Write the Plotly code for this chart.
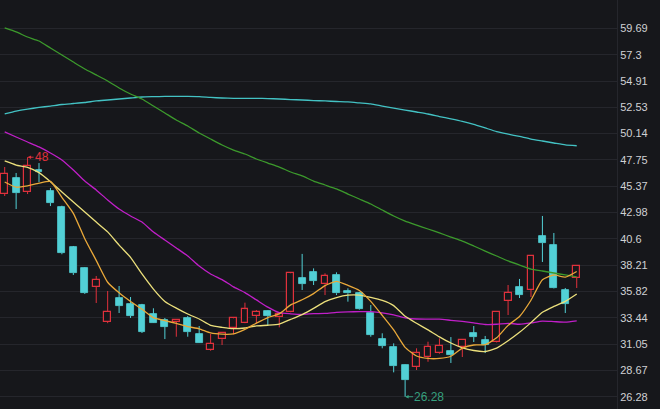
import plotly.graph_objects as go

# ---------------- data ----------------
opens = [44.66, 46.11, 44.84, 46.80, 44.93, 43.48, 39.86, 37.95, 36.23, 33.05,
         35.23, 34.69, 34.60, 33.78, 33.24, 33.08, 33.39, 31.97, 30.52, 31.49,
         32.48, 33.00, 33.60, 34.05, 33.48, 33.93, 37.02, 37.56, 36.47, 37.35,
         35.87, 35.66, 33.84, 31.51, 30.81, 29.15, 29.00, 29.91, 30.22, 30.43,
         30.79, 32.06, 31.42, 31.24, 34.96, 36.23, 35.96, 40.85, 40.04, 35.96, 37.05]
highs = [47.11, 46.57, 48.00, 47.47, 45.21, 43.60, 39.95, 38.00, 37.23, 35.87,
         36.32, 35.32, 34.70, 34.30, 33.42, 33.30, 33.60, 32.69, 31.97, 32.15,
         33.45, 34.81, 34.14, 34.10, 33.85, 37.50, 39.23, 37.92, 37.47, 37.56,
         36.11, 35.78, 34.60, 32.03, 31.12, 29.20, 30.67, 31.27, 31.57, 31.69,
         31.50, 32.69, 31.79, 34.00, 36.41, 36.96, 39.10, 42.67, 41.13, 36.14, 38.20]
lows = [44.48, 43.30, 44.66, 45.75, 43.57, 39.20, 37.32, 35.60, 34.78, 32.95,
        33.87, 33.42, 32.06, 32.97, 31.51, 31.72, 31.72, 31.15, 30.45, 30.97,
        31.94, 32.95, 32.93, 32.78, 32.57, 33.90, 35.96, 36.41, 35.50, 35.50,
        34.90, 34.15, 31.72, 30.67, 28.49, 26.28, 28.70, 29.45, 30.15, 29.34,
        29.88, 31.24, 30.24, 31.20, 33.69, 35.23, 35.32, 38.50, 36.10, 33.87, 36.14]
closes = [46.48, 44.75, 47.20, 46.70, 43.85, 39.31, 37.50, 35.68, 36.86, 33.96,
          34.51, 33.60, 32.17, 33.00, 32.63, 33.24, 32.17, 31.18, 31.06, 32.09,
          33.39, 34.21, 33.99, 33.60, 33.78, 37.47, 36.50, 36.80, 37.26, 35.66,
          35.66, 34.21, 31.88, 30.88, 29.06, 27.79, 30.22, 30.81, 30.88, 30.06,
          31.42, 31.69, 30.97, 33.96, 35.69, 35.50, 39.04, 40.22, 36.14, 34.69, 38.13]

ma5 = [45.75, 45.28, 45.40, 45.65, 45.80, 44.36, 42.91, 40.61, 38.64, 36.66,
       35.70, 34.92, 34.22, 33.45, 33.18, 32.93, 32.64, 32.44, 32.06, 31.95,
       31.98, 32.39, 32.95, 33.46, 33.79, 34.61, 35.07, 35.63, 36.36, 36.74,
       36.38, 35.92, 34.93, 33.66, 32.34, 30.76, 29.97, 29.75, 29.75, 29.95,
       30.68, 30.97, 31.00, 31.62, 32.75, 33.56, 35.03, 36.88, 37.32, 37.12, 37.64]
ma10 = [47.66, 47.29, 47.08, 46.60, 45.78, 44.85, 43.94, 43.03, 42.12, 41.23,
        40.03, 38.92, 37.41, 36.04, 34.92, 34.32, 33.78, 33.33, 32.75, 32.57,
        32.45, 32.51, 32.70, 32.76, 32.87, 33.29, 33.73, 34.29, 34.91, 35.27,
        35.49, 35.49, 35.28, 35.01, 34.54, 33.57, 32.94, 32.34, 31.71, 31.15,
        30.72, 30.47, 30.38, 30.69, 31.35, 32.12, 33.00, 33.94, 34.47, 34.93, 35.60]
ma20 = [50.29, 49.83, 49.38, 48.93, 48.38, 47.75, 46.84, 45.84, 45.03, 44.12,
        43.30, 42.67, 42.12, 41.22, 40.49, 39.77, 39.04, 38.13, 37.41, 36.90,
        36.24, 35.72, 35.06, 34.40, 33.90, 33.80, 33.75, 33.81, 33.83, 33.92,
        33.97, 34.00, 33.99, 33.88, 33.70, 33.43, 33.33, 33.32, 33.31, 33.21,
        33.11, 32.98, 32.83, 32.85, 32.94, 32.85, 32.97, 33.14, 33.09, 33.04, 33.16]
ma60 = [59.72, 59.36, 58.90, 58.54, 57.90, 57.27, 56.63, 56.00, 55.46, 54.91,
        54.28, 53.73, 53.28, 52.64, 52.01, 51.37, 50.83, 50.20, 49.65, 49.11,
        48.65, 48.29, 47.84, 47.47, 47.11, 46.66, 46.30, 45.84, 45.48, 45.12,
        44.66, 44.21, 43.76, 43.21, 42.67, 42.21, 41.85, 41.49, 41.13, 40.76,
        40.40, 39.95, 39.49, 39.04, 38.59, 38.22, 37.86, 37.68, 37.50, 37.32, 37.14]
ma120 = [51.92, 52.19, 52.37, 52.51, 52.64, 52.78, 52.87, 52.96, 53.10, 53.19,
         53.28, 53.37, 53.46, 53.49, 53.51, 53.51, 53.51, 53.49, 53.42, 53.37,
         53.34, 53.34, 53.34, 53.32, 53.28, 53.23, 53.19, 53.14, 53.10, 53.05,
         53.01, 52.92, 52.83, 52.64, 52.46, 52.28, 52.10, 51.92, 51.69, 51.47,
         51.24, 50.97, 50.65, 50.33, 50.10, 49.88, 49.65, 49.47, 49.29, 49.11, 49.04]

tick_vals = [26.28, 28.67, 31.05, 33.44, 35.82, 38.21, 40.6, 42.98, 45.37,
             47.75, 50.14, 52.53, 54.91, 57.3, 59.69]
tick_text = ["26.28", "28.67", "31.05", "33.44", "35.82", "38.21", "40.6", "42.98",
             "45.37", "47.75", "50.14", "52.53", "54.91", "57.3", "59.69"]

high_label = "48"
low_label = "26.28"

# ---------------- styles ----------------
BG = "#16171b"
GRID = "#25262c"
RED = "#e0313c"
CYAN = "#52d0d6"
LOWC = "#36a07f"

x = list(range(len(opens)))

fig = go.Figure()

# wicks
def wick_xy(sel):
    xs, ys = [], []
    for i in sel:
        top = max(opens[i], closes[i])
        bot = min(opens[i], closes[i])
        xs += [i, i, None, i, i, None]
        ys += [highs[i], top, None, bot, lows[i], None]
    return xs, ys

up = [i for i in x if closes[i] >= opens[i]]
dn = [i for i in x if closes[i] < opens[i]]

for sel, col in ((up, RED), (dn, CYAN)):
    wx, wy = wick_xy(sel)
    fig.add_trace(go.Scatter(x=wx, y=wy, mode="lines", line=dict(color=col, width=1),
                             hoverinfo="skip"))

# bodies
def body(sel):
    base = [min(opens[i], closes[i]) for i in sel]
    h = [max(abs(closes[i] - opens[i]), 0.05) for i in sel]
    return base, h

b, h = body(up)
fig.add_trace(go.Bar(x=up, y=h, base=b, width=0.6,
                     marker=dict(color=BG, line=dict(color=RED, width=1.2))))
b, h = body(dn)
fig.add_trace(go.Bar(x=dn, y=h, base=b, width=0.6,
                     marker=dict(color=CYAN, line=dict(color=CYAN, width=0.8))))

# moving averages
for vals, col in ((ma120, "#43c2c4"), (ma60, "#3c9a2c"), (ma20, "#c01fc8"),
                  (ma10, "#ece07c"), (ma5, "#eaa93a")):
    fig.add_trace(go.Scatter(x=x, y=vals, mode="lines",
                             line=dict(color=col, width=1.3, shape="spline", smoothing=0.5),
                             hoverinfo="skip"))

# high / low markers
imax = highs.index(max(highs))
imin = lows.index(min(lows))
fig.add_annotation(x=imax, y=highs[imax], text=high_label, showarrow=True,
                   ax=6, ay=0, xanchor="left", arrowhead=2, arrowsize=0.7,
                   arrowwidth=1, arrowcolor=RED, font=dict(color=RED, size=12,
                   family="Liberation Sans, Arial"), borderpad=0)
fig.add_annotation(x=imin, y=lows[imin], text=low_label, showarrow=True,
                   ax=8, ay=0, xanchor="left", arrowhead=2, arrowsize=0.7,
                   arrowwidth=1, arrowcolor=LOWC, font=dict(color=LOWC, size=12,
                   family="Liberation Sans, Arial"), borderpad=0)

fig.update_layout(
    width=660, height=409,
    margin=dict(l=0, r=43, t=0, b=0),
    paper_bgcolor=BG, plot_bgcolor=BG,
    showlegend=False, barmode="overlay", bargap=0,
    xaxis=dict(range=[-0.41, 53.52], showgrid=False, zeroline=False,
               showticklabels=False, showline=False, fixedrange=True),
    yaxis=dict(side="right", range=[25.166, 62.257], tickvals=tick_vals,
               ticktext=tick_text, gridcolor=GRID, gridwidth=1, zeroline=False,
               showline=True, linecolor=GRID, linewidth=1, ticks="",
               tickfont=dict(color="#d0d1d4", size=11, family="Liberation Sans, Arial")),
)

fig.write_html("out.html", config={"displayModeBar": False},
               post_script="document.body.style.margin='0';"
                           "document.body.style.background='#16171b';"
                           "document.body.style.overflow='hidden';")
